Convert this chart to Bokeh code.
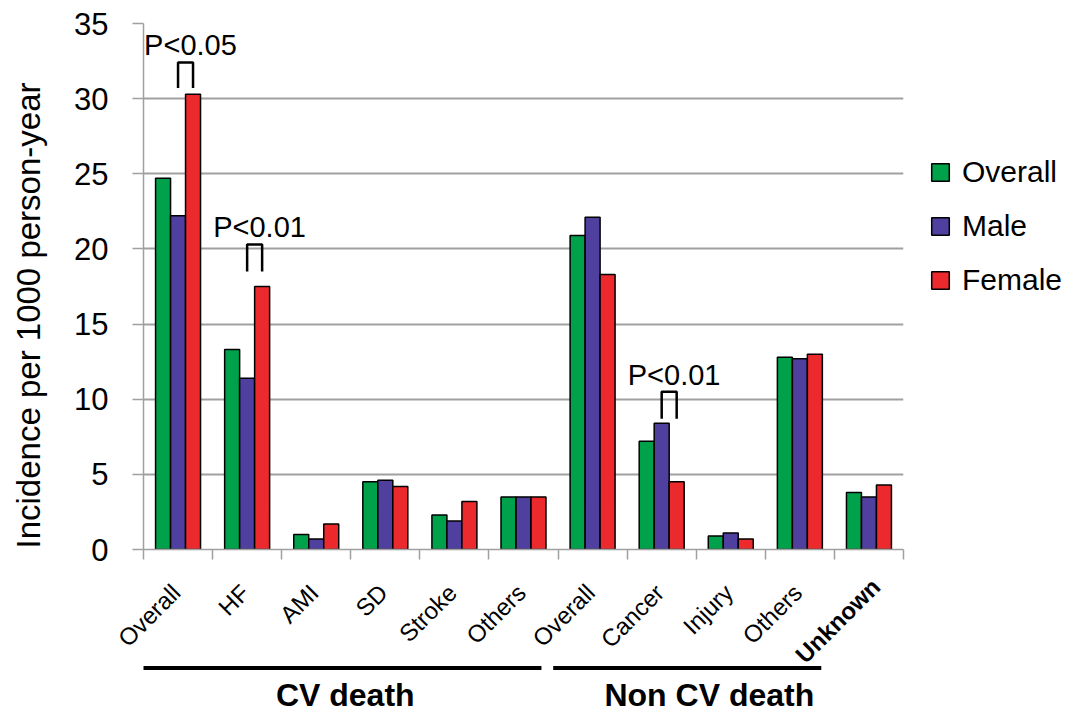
import math
from bokeh.plotting import figure
from bokeh.layouts import column, row
from bokeh.models import FixedTicker, Legend, LegendItem, ColumnDataSource, Range1d
from bokeh.core.properties import value
from bokeh.embed import file_html
from bokeh.resources import INLINE

categories = ["Overall", "HF", "AMI", "SD", "Stroke", "Others",
              "Overall", "Cancer", "Injury", "Others", "Unknown"]
category_bold = [False] * 10 + [True]
overall = [24.7, 13.3, 1.0, 4.5, 2.3, 3.5, 20.9, 7.2, 0.9, 12.8, 3.8]
male    = [22.2, 11.4, 0.7, 4.6, 1.9, 3.5, 22.1, 8.4, 1.1, 12.7, 3.5]
female  = [30.3, 17.5, 1.7, 4.2, 3.2, 3.5, 18.3, 4.5, 0.7, 13.0, 4.3]
series_names = ["Overall", "Male", "Female"]
series_colors = ["#00A14B", "#4F3F9F", "#EC2A2D"]

y_ticks = [0, 5, 10, 15, 20, 25, 30, 35]
y_title = "Incidence per 1000 person-year"

# significance brackets: group index, leg bottom, bracket top, label level, label
br_group = [0, 1, 7]
br_bottom = [30.7, 18.5, 8.7]
br_top = [32.4, 20.3, 10.5]
br_text_y = [33.6, 21.45, 11.6]
br_text = ["P<0.05", "P<0.01", "P<0.01"]

# group spans along the category axis
grp_names = ["CV death", "Non CV death"]
grp_start = [-0.5, 5.43]
grp_end = [5.26, 9.31]
grp_text_x = [2.42, 7.69]

FONT = "Liberation Sans"
GRID = "#a0a0a0"
n = len(categories)
centers = list(range(n))
bw = 0.217
offsets = [-bw, 0.0, bw]

LEFT_STRIP = 60
BORDER_L = 83
FRAME_W = 760
BORDER_R = 167
TOP = 23
FRAME_H = 526
BOTTOM = 20
TOTAL_H1 = TOP + FRAME_H + BOTTOM
LOW_H = 713 - TOTAL_H1

p = figure(frame_width=FRAME_W, frame_height=FRAME_H, x_range=(-0.5, n - 0.5), y_range=(0, 35),
           output_backend="svg", toolbar_location=None,
           min_border_left=BORDER_L, min_border_right=BORDER_R,
           min_border_top=TOP, min_border_bottom=BOTTOM)
p.outline_line_color = None

renderers = []
for vals, off, col in zip([overall, male, female], offsets, series_colors):
    src = ColumnDataSource(dict(x=[c + off for c in centers], top=vals))
    r = p.vbar(x="x", top="top", width=bw, source=src, fill_color=col,
               line_color="black", line_width=1.5)
    renderers.append(r)

p.xgrid.grid_line_color = None
p.ygrid.ticker = FixedTicker(ticks=y_ticks)
p.ygrid.grid_line_color = GRID
p.ygrid.grid_line_width = 1.8

ya = p.yaxis[0]
ya.ticker = FixedTicker(ticks=y_ticks)
ya.axis_line_color = GRID
ya.axis_line_width = 1.5
ya.major_tick_line_color = GRID
ya.major_tick_line_width = 1.5
ya.major_tick_in = 0
ya.major_tick_out = 11
ya.minor_tick_line_color = None
ya.major_label_text_font = FONT
ya.major_label_text_font_size = "31px"
ya.major_label_text_color = "black"
ya.major_label_standoff = 24

xa = p.xaxis[0]
boundaries = [c - 0.5 for c in centers] + [n - 0.5]
xa.ticker = FixedTicker(ticks=centers, minor_ticks=boundaries)
xa.major_label_overrides = {i: "" for i in centers}
xa.major_label_text_font_size = "0px"
xa.major_label_standoff = 0
xa.major_tick_line_color = None
xa.minor_tick_line_color = GRID
xa.minor_tick_line_width = 1.5
xa.minor_tick_in = 0
xa.minor_tick_out = 10
xa.axis_line_color = GRID
xa.axis_line_width = 1.5

# significance brackets
bx, by = [], []
for g, b0, b1 in zip(br_group, br_bottom, br_top):
    xl = g + offsets[1]
    xr = g + offsets[2]
    bx.append([xl, xl, xr, xr])
    by.append([b0, b1, b1, b0])
p.multi_line(xs=bx, ys=by, line_color="black", line_width=2.5)
p.text(x=[g + 0.18 for g in br_group], y=br_text_y, text=br_text,
       text_align="center", text_baseline="alphabetic", text_font=value(FONT),
       text_font_size="29px", text_color="black")

legend = Legend(items=[LegendItem(label=nm, renderers=[r]) for nm, r in zip(series_names, renderers)],
                location=(26, 252), padding=0, margin=0, border_line_color=None,
                background_fill_alpha=0, glyph_width=22, glyph_height=22,
                label_standoff=11, spacing=20, label_text_font=FONT,
                label_text_font_size="30px", label_text_color="black")
p.add_layout(legend, "right")

# left strip holding the y-axis title
s = figure(frame_width=LEFT_STRIP, frame_height=TOTAL_H1, x_range=Range1d(0, LEFT_STRIP),
           y_range=Range1d(0, TOTAL_H1), output_backend="svg", toolbar_location=None,
           x_axis_location=None, y_axis_location=None,
           min_border_left=0, min_border_right=0, min_border_top=0, min_border_bottom=0)
s.outline_line_color = None
s.grid.visible = False
s.text(x=[28], y=[TOTAL_H1 - 561 + 269], text=[y_title], angle=math.pi / 2,
       text_align="center", text_baseline="middle", text_font=value(FONT),
       text_font_size="33px", text_color="black")

# lower strip: category labels, group lines and group names (same x scale as the bars)
ppu = FRAME_W / n
q_start = -0.5 - (LEFT_STRIP + BORDER_L) / ppu
q_end = n - 0.5 + BORDER_R / ppu
q = figure(frame_width=LEFT_STRIP + BORDER_L + FRAME_W + BORDER_R, frame_height=LOW_H,
           x_range=Range1d(q_start, q_end), y_range=Range1d(0, LOW_H),
           output_backend="svg", toolbar_location=None,
           x_axis_location=None, y_axis_location=None,
           min_border_left=0, min_border_right=0, min_border_top=0, min_border_bottom=0)
q.outline_line_color = None
q.grid.visible = False

reg = [i for i in centers if not category_bold[i]]
q.text(x=[i - 0.03 for i in reg], y=[125] * len(reg), text=[categories[i] for i in reg],
       angle=math.pi / 4, text_align="right", text_baseline="middle",
       text_font=value(FONT), text_font_size="24px", text_color="black")
bold = [i for i in centers if category_bold[i]]
q.text(x=[i + 0.10 for i in bold], y=[131] * len(bold), text=[categories[i] for i in bold],
       angle=math.pi / 4, text_align="right", text_baseline="middle",
       text_font=value(FONT), text_font_size="24px", text_font_style="bold", text_color="black")

q.segment(x0=grp_start, x1=grp_end, y0=[45.5] * len(grp_start), y1=[45.5] * len(grp_start),
          line_color="black", line_width=4)
q.text(x=grp_text_x, y=[19] * len(grp_text_x), text=grp_names,
       text_align="center", text_baseline="alphabetic", text_font=value(FONT),
       text_font_size="32px", text_font_style="bold", text_color="black")

layout = column(row(s, p, spacing=0), q, spacing=0)
open("out.html", "w").write(file_html(layout, INLINE))
